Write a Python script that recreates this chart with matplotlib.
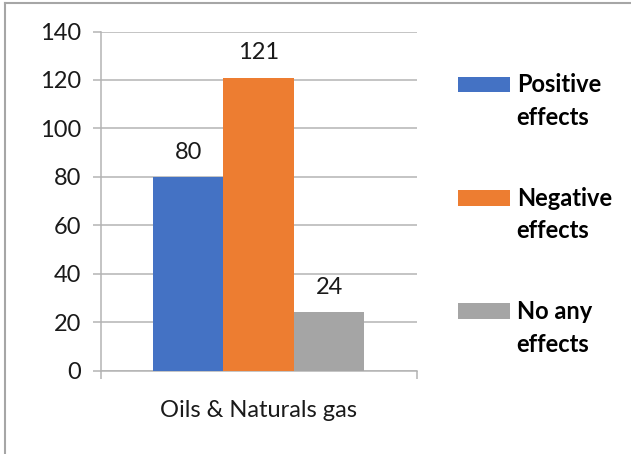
import matplotlib as mpl
import matplotlib.pyplot as plt
from matplotlib.lines import Line2D
from matplotlib.patches import Rectangle

mpl.rcParams.update(
    {
        "font.family": ["Lato", "DejaVu Sans"],
        "font.size": 17,
    }
)

category = "Oils & Naturals gas"
series = ["Positive effects", "Negative effects", "No any effects"]
values = [80, 121, 24]
colors = ["#4472C4", "#ED7D31", "#A5A5A5"]
yticks = [0, 20, 40, 60, 80, 100, 120, 140]

W, H = 631, 454
GRID = "#b4b4b4"


def fx(px):
    return px / W


def fy(py):
    return 1 - py / H


def main():
    fig = plt.figure(figsize=(W / 100, H / 100), dpi=100)
    ax = fig.add_axes([fx(100.5), fy(370.5), fx(416.7) - fx(100.5), fy(31.5) - fy(370.5)])

    bw = 0.223
    offsets = [(i - (len(series) - 1) / 2) * bw for i in range(len(series))]
    for off, v, c in zip(offsets, values, colors):
        ax.bar(off, v, width=bw, color=c, zorder=3)
        ax.annotate(str(v), (off, v), xytext=(0, 13), textcoords="offset points",
                    ha="center", va="baseline", color="#1a1a1a")

    ax.set_xlim(-0.5, 0.5)
    ax.set_ylim(0, 140)
    ax.set_yticks(yticks)
    ax.yaxis.grid(True, color=GRID, lw=1.1, zorder=0)
    ax.tick_params(axis="y", length=5.8, width=1.1, color=GRID, pad=8, labelcolor="#1a1a1a")

    ax.set_xticks([0], labels=[category])
    ax.set_xticks([-0.5, 0.5], minor=True)
    ax.tick_params(axis="x", which="major", length=0, pad=21, labelcolor="#1a1a1a")
    ax.tick_params(axis="x", which="minor", length=5.8, width=1.1, color=GRID)

    for s in ["top", "right"]:
        ax.spines[s].set_visible(False)
    for s in ["left", "bottom"]:
        ax.spines[s].set_color(GRID)
        ax.spines[s].set_linewidth(1.1)

    # legend drawn by hand so the swatch sits at the first text line
    step = 113.3
    for i, (name, c) in enumerate(zip(series, colors)):
        top = 76.7 + i * step
        fig.add_artist(Rectangle((fx(457.7), fy(top + 15.6)), fx(52.3), 15.6 / H,
                                 transform=fig.transFigure, color=c, lw=0))
        first, second = name.rsplit(" ", 1)
        fig.text(fx(516.7), fy(92.3 + i * step), first, fontweight="bold",
                 va="baseline", ha="left", color="black")
        fig.text(fx(516.7), fy(125.0 + i * step), second, fontweight="bold",
                 va="baseline", ha="left", color="black")

    # chart frame (only left and top edges are inside the picture)
    fig.add_artist(Line2D([fx(5), fx(5)], [0, fy(2.5)], transform=fig.transFigure,
                          color="#a6a6a6", lw=1.5))
    fig.add_artist(Line2D([fx(5), 1], [fy(2.5), fy(2.5)], transform=fig.transFigure,
                          color="#a6a6a6", lw=1.5))

    fig.savefig("out.png", dpi=100)


if __name__ == "__main__":
    main()
